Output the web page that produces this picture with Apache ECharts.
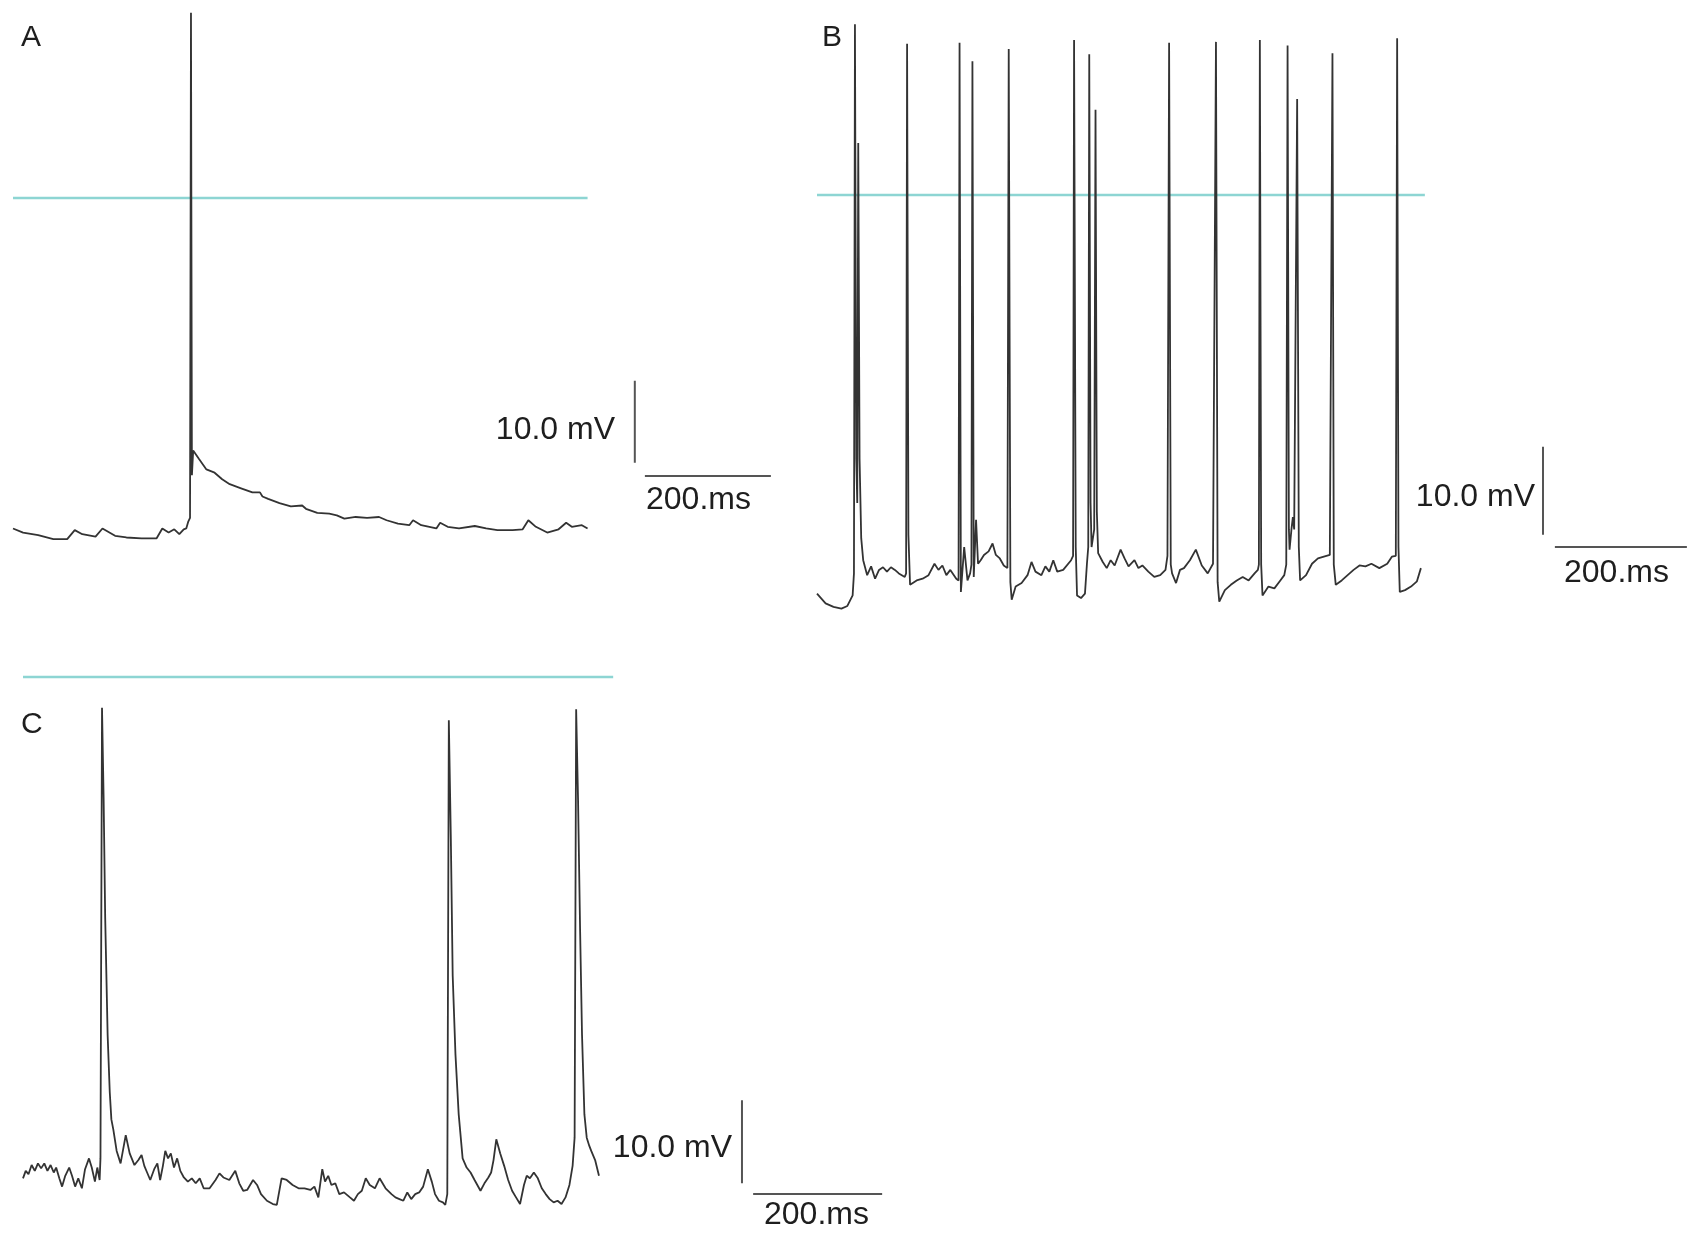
<!DOCTYPE html>
<html>
<head>
<meta charset="utf-8">
<script src="https://cdn.jsdelivr.net/npm/echarts@6/dist/echarts.min.js"></script>
<style>
  html, body { margin: 0; padding: 0; background: #fff; }
  #main { width: 1708px; height: 1242px; }
</style>
</head>
<body>
<div id="main"></div>
<script>
// membrane potential traces, [time ms, potential mV]
var traceA = [
  [0,-40.3],[16,-40.8],[40,-41.1],[64,-41.6],[86,-41.6],[98,-40.5],[110,-41.0],[131,-41.3],
  [142,-40.3],[162,-41.2],[180,-41.4],[204,-41.5],[228,-41.5],[237,-40.3],[247,-40.8],[256,-40.4],
  [264,-41.0],[271,-40.4],[275,-40.3],[278,-39.5],[281,-39],[282.5,22.6],[284,-33.8],[286,-30.8],
  [295,-31.8],[307,-33.1],[320,-33.5],[332,-34.3],[344,-34.9],[362,-35.4],[380,-35.9],[392,-35.9],
  [396,-36.4],[405,-36.7],[423,-37.2],[441,-37.6],[459,-37.5],[465,-37.9],[483,-38.4],[502,-38.5],
  [514,-38.7],[526,-39.1],[544,-38.9],[562,-39.0],[581,-38.9],[593,-39.3],[611,-39.7],[629,-39.9],
  [635,-39.3],[648,-39.9],[672,-40.3],[678,-39.6],[690,-40.1],[708,-40.3],[733,-40.0],[751,-40.3],
  [769,-40.5],[793,-40.5],[809,-40.4],[818,-39.3],[830,-40.1],[848,-40.8],[866,-40.4],[878,-39.6],
  [887,-40.1],[903,-39.9],[912,-40.3]
];

var traceB = [
  [0,-45.3],[13,-46.4],[25,-46.8],[37,-47.0],[46,-46.7],[54,-45.5],[56,-43],[57.5,19.4],[59.5,-30],
  [61,-35],[62.5,5.9],[64.5,-30],[67,-39.0],[70,-41.5],[76,-43.2],[82,-42.2],[88,-43.6],[94,-42.6],
  [100,-42.3],[106,-42.8],[112,-42.3],[118,-42.6],[124,-43.0],[133,-43.4],[135,-43],[136.5,17.2],
  [138.5,-38.6],[141,-44.3],[144,-44.3],[151,-43.8],[160,-43.6],[169,-43.2],[178,-41.9],[184,-42.6],
  [190,-42.1],[196,-43.2],[202,-42.6],[211,-43.6],[214.5,-43.8],[216,17.3],[218,-45.1],[223,-40.0],
  [228,-43.8],[232,-43.0],[234,-42],[235.5,15.2],[237.5,-43.4],[241,-36.9],[244,-41.9],[248,-41.5],
  [253,-40.9],[260,-40.5],[266,-39.6],[271,-40.9],[277,-41.3],[283,-42.1],[288.5,-42.4],[290.5,16.6],
  [293,-44],[295,-46.0],[301,-44.5],[310,-44.1],[319,-43.2],[325,-41.7],[331,-42.8],[340,-43.2],
  [346,-42.2],[352,-42.8],[358,-41.5],[364,-42.8],[373,-42.6],[385,-41.5],[388,-41],[389.5,17.6],
  [392,-40],[394,-45.5],[400,-45.8],[406,-45.3],[409,-41.9],[411,-40],[412.5,16.0],[414.5,-35],
  [416,-40.0],[420,-38],[422,9.7],[424,-36],[426,-40.7],[433,-41.7],[439,-42.4],[445,-41.5],
  [451,-42.1],[460,-40.3],[466,-41.3],[472,-42.2],[481,-41.5],[487,-42.4],[493,-42.1],[502,-42.8],
  [511,-43.4],[520,-43.2],[528,-42.6],[531,-41],[533.5,17.3],[536,-42],[538,-43.0],[544,-44.1],
  [550,-42.6],[556,-42.4],[565,-41.5],[574,-40.3],[583,-42.1],[592,-43.0],[600,-41.9],[603,-42],
  [604.5,17.4],[607,-44],[609.5,-46.2],[618,-44.9],[627,-44.3],[636,-43.8],[645,-43.4],[654,-43.8],
  [663,-43.0],[668,-42.6],[669.5,-42],[671,17.6],[673,-42],[675,-45.5],[684,-44.5],[693,-44.7],
  [702,-43.8],[708,-43.2],[711,-42],[713,17.0],[715,-38],[716,-40.3],[719,-37.9],[721,-36.6],
  [723,-38],[727.5,10.9],[730,-40],[732,-43.8],[741,-43.2],[750,-41.9],[759,-41.3],[768,-41.1],
  [777,-40.9],[779.5,-41],[781,16.1],[783,-42],[786,-44.3],[795,-43.8],[804,-43.2],[813,-42.6],
  [822,-42.1],[831,-42.2],[840,-41.9],[852,-42.4],[864,-41.9],[871,-41.1],[877,-41],[879,17.8],
  [881,-40],[883,-45.1],[891,-44.9],[900,-44.5],[909,-43.9],[915,-42.4]
];

var traceC = [
  [0,-60.4],[4.2,-59.5],[8.5,-59.9],[13.4,-58.8],[18.3,-59.5],[23.2,-58.6],[28.1,-59.2],[33,-58.6],
  [37.9,-59.5],[42.8,-58.8],[47.7,-59.7],[51.4,-59.1],[56.3,-60.4],[60.6,-61.4],[65.5,-60.1],
  [71.6,-59.1],[76,-60.1],[80.8,-61.4],[85.7,-60.4],[91.3,-61.6],[96.2,-59.3],[102.3,-58.0],
  [106.6,-59.1],[111.5,-60.8],[115.2,-59.1],[118.8,-60.6],[120.1,-58],[122.5,-3.7],[125,-14.6],
  [127.4,-28.9],[131.2,-43.1],[134.5,-50],[137,-53.3],[140,-54.5],[145.2,-57.1],[151.3,-58.6],
  [159.3,-55.2],[165.4,-57.4],[172.8,-58.8],[178.9,-58.2],[183.8,-57.6],[188.1,-58.9],[192.4,-59.7],
  [197.3,-60.6],[203.4,-59.3],[208.3,-58.6],[212.6,-60.6],[216.9,-58.9],[220.6,-57.1],[224.9,-58.0],
  [229.2,-57.4],[234.1,-59.1],[239,-58.0],[243.9,-59.5],[249.4,-60.3],[255.6,-60.8],[261.7,-60.4],
  [267.8,-61.0],[274,-60.4],[280.1,-61.6],[289.3,-61.6],[298.5,-60.6],[304.6,-59.8],[310.7,-60.3],
  [319.9,-60.6],[329.1,-59.5],[335.3,-61.0],[341.4,-61.9],[347.5,-61.8],[356.7,-60.6],[362.9,-61.2],
  [369,-62.3],[378.2,-63.1],[387.4,-63.5],[393.5,-63.6],[400.9,-60.4],[408.8,-60.6],[418,-61.2],
  [427.2,-61.6],[436.4,-61.6],[445.6,-61.8],[451.8,-61.4],[457.9,-62.7],[464,-59.3],[468.3,-60.8],
  [473.2,-60.1],[478.1,-61.2],[484.2,-61.0],[490.4,-62.3],[497.7,-62.1],[506.9,-62.7],[513.1,-63.1],
  [519.2,-62.3],[525.3,-61.9],[531.4,-60.4],[537.6,-61.2],[545.6,-61.6],[552.9,-60.4],[562.1,-61.6],
  [571.3,-62.3],[577.4,-62.7],[583.6,-62.9],[589.7,-63.1],[595.8,-62.1],[601.9,-62.9],[608.1,-62.3],
  [614.2,-62.1],[620.4,-61.4],[627.7,-59.3],[633.8,-60.8],[638.8,-62.3],[644.9,-63.1],[651,-63.3],
  [654.7,-63.6],[657.8,-62.3],[660.2,-5.2],[663.3,-19.4],[666.2,-36.0],[670.5,-45.5],[675.5,-52.7],
  [681.6,-58.0],[687.8,-59.1],[693.9,-59.7],[700.1,-60.6],[709.3,-61.9],[715.4,-61.0],[721.5,-60.3],
  [725.8,-59.7],[729.5,-58.2],[733.8,-55.7],[739.9,-57.4],[746,-58.9],[752.2,-60.6],[758.3,-61.9],
  [764.4,-62.7],[770.6,-63.5],[776.7,-61.2],[781,-60.1],[785.9,-60.4],[792,-59.7],[798.2,-60.4],
  [804.3,-61.6],[810.4,-62.3],[816.5,-62.9],[822.7,-63.3],[828.8,-63.1],[834.9,-63.5],[841.1,-62.7],
  [847.2,-61.2],[852.1,-58.9],[855.2,-55.5],[857.6,-3.9],[860.5,-14.6],[863.7,-30.4],[866.7,-43.1],
  [870.4,-52.7],[874,-55.5],[878,-56.5],[881,-57.1],[887,-58.2],[893,-60.1]
];

// 0 mV reference line: start/end time of each trace
var zeroSpanA = [0, 912];
var zeroSpanB = [0, 921];
var zeroSpanC = [0, 915];

var scaleMs = 200;
var scaleMv = 10;
var scaleTimeLabel = '200.ms';
var scaleVoltLabel = '10.0 mV';

// pixel layout of each panel: origin of time axis, 0 mV row, px per ms / mV
var panels = [
  { left: 13,  zeroY: 198, pxMs: 0.63,  pxMv: 8.2, xMax: 1250, yMin: -49, yMax: 24,
    bar: { vt: 987, v0: -32.3, ht0: 1003, hv: -33.9 } },
  { left: 817, zeroY: 195, pxMs: 0.66,  pxMv: 8.8, xMax: 1340, yMin: -49, yMax: 21,
    bar: { vt: 1100, v0: -38.6, ht0: 1118, hv: -40.0 } },
  { left: 23,  zeroY: 677, pxMs: 0.645, pxMv: 8.3, xMax: 1380, yMin: -68, yMax: 4.5,
    bar: { vt: 1114.7, v0: -61.0, ht0: 1132, hv: -62.3 } }
];

var traces = [traceA, traceB, traceC];
var zeroSpans = [zeroSpanA, zeroSpanB, zeroSpanC];

var grids = [], xAxes = [], yAxes = [], series = [];

panels.forEach(function (p, i) {
  grids.push({
    left: p.left,
    top: p.zeroY - p.yMax * p.pxMv,
    width: p.xMax * p.pxMs,
    height: (p.yMax - p.yMin) * p.pxMv
  });
  xAxes.push({ type: 'value', gridIndex: i, min: 0, max: p.xMax, show: false });
  yAxes.push({ type: 'value', gridIndex: i, min: p.yMin, max: p.yMax, show: false });

  series.push({
    type: 'line', xAxisIndex: i, yAxisIndex: i,
    data: [[zeroSpans[i][0], 0], [zeroSpans[i][1], 0]],
    showSymbol: false, silent: true,
    lineStyle: { color: '#8dd5d3', width: 2.5 }
  });
  series.push({
    type: 'line', xAxisIndex: i, yAxisIndex: i,
    data: traces[i],
    showSymbol: false, silent: true,
    lineStyle: { color: '#333', width: 1.8 }
  });
  // scale bars
  series.push({
    type: 'line', xAxisIndex: i, yAxisIndex: i,
    data: [[p.bar.vt, p.bar.v0], [p.bar.vt, p.bar.v0 + scaleMv]],
    showSymbol: false, silent: true,
    lineStyle: { color: '#555', width: 2 }
  });
  series.push({
    type: 'line', xAxisIndex: i, yAxisIndex: i,
    data: [[p.bar.ht0, p.bar.hv], [p.bar.ht0 + scaleMs, p.bar.hv]],
    showSymbol: false, silent: true,
    lineStyle: { color: '#555', width: 2 }
  });
});

var font = '"Liberation Sans", Arial, sans-serif';
function txt(x, y, s, align, size) {
  return {
    type: 'text', x: x, y: y,
    style: { text: s, fill: '#1e1e1e', font: (size || 32) + 'px ' + font,
      textAlign: align, textVerticalAlign: 'middle' }
  };
}

var chart = echarts.init(document.getElementById('main'), null, { renderer: 'canvas' });
chart.setOption({
  backgroundColor: '#ffffff',
  animation: false,
  grid: grids,
  xAxis: xAxes,
  yAxis: yAxes,
  series: series,
  graphic: [
    txt(21, 38, 'A', 'left', 30),
    txt(822, 38, 'B', 'left', 30),
    txt(21, 725, 'C', 'left', 30),
    txt(615, 430, scaleVoltLabel, 'right'),
    txt(646, 500, scaleTimeLabel, 'left'),
    txt(1535, 497, scaleVoltLabel, 'right'),
    txt(1564, 573, scaleTimeLabel, 'left'),
    txt(732, 1148, scaleVoltLabel, 'right'),
    txt(764, 1215, scaleTimeLabel, 'left')
  ]
});
</script>
</body>
</html>
